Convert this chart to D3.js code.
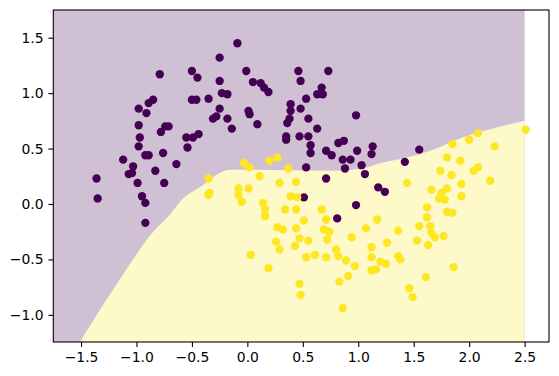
<!DOCTYPE html>
<html>
<head>
<meta charset="utf-8">
<script src="https://cdn.jsdelivr.net/npm/d3@7"></script>
<style>
  body { margin: 0; background: #fff; }
  svg { font-family: "DejaVu Sans", sans-serif; }
</style>
</head>
<body>
<div id="chart"></div>
<script>
// class 0 points (purple)
const class0 = [
  [-1.36,0.23],[-1.35,0.05],[-1.12,0.40],[-1.03,0.34],[-1.07,0.27],[-1.04,0.28],[-0.99,0.19],
  [-0.83,0.30],[-0.75,0.19],[-0.64,0.36],[-0.76,0.46],[-0.92,0.44],[-0.89,0.44],[-0.98,0.52],
  [-0.97,0.60],[-0.98,0.71],[-0.78,0.65],[-0.74,0.70],[-0.71,0.70],[-0.91,0.82],[-0.98,0.86],
  [-0.89,0.91],[-0.85,0.94],[-0.79,1.17],[-0.55,0.60],[-0.54,0.51],[-0.50,1.20],[-0.45,1.14],
  [-0.50,0.94],[-0.46,0.94],[-0.49,0.60],[-0.44,0.63],[-0.95,0.07],[-0.92,0.01],[-0.92,-0.17],
  [-0.09,1.45],[-0.25,1.32],[-0.25,1.11],[-0.35,0.95],[-0.23,1.00],[-0.18,0.99],[-0.25,0.86],
  [-0.31,0.77],[-0.28,0.79],[-0.18,0.77],[-0.14,0.68],[-0.01,1.20],[0.46,1.20],[0.73,1.20],
  [0.05,1.10],[0.12,1.09],[0.15,1.05],[0.19,1.01],[0.48,1.11],[0.67,1.05],[0.63,0.99],
  [0.68,0.99],[0.53,0.95],[0.39,0.90],[0.39,0.84],[0.48,0.86],[0.01,0.84],[0.02,0.81],
  [0.09,0.72],[0.38,0.77],[0.55,0.77],[0.36,0.73],[0.63,0.68],[0.35,0.61],[0.35,0.58],
  [0.47,0.61],[0.55,0.61],[0.57,0.53],[0.57,0.46],[0.71,0.48],[0.76,0.44],[0.82,0.55],
  [0.87,0.57],[0.99,0.48],[0.98,0.80],[1.13,0.52],[1.12,0.45],[0.86,0.40],[0.93,0.40],
  [1.03,0.35],[0.53,0.33],[0.88,0.32],[0.71,0.23],[1.06,0.27],[1.18,0.15],[1.24,0.11],
  [0.51,0.06],[1.55,0.49],[1.42,0.38],[0.98,-0.01],[0.81,-0.13]
];

// class 1 points (yellow)
const class1 = [
  [-0.35,0.23],[-0.35,0.08],[-0.34,0.10],[-0.03,0.37],[0.02,0.33],[0.20,0.39],[0.27,0.42],
  [0.11,0.25],[0.37,0.32],[-0.08,0.14],[0.01,0.14],[-0.08,0.08],[-0.05,0.02],[0.29,0.19],
  [0.44,0.20],[0.39,0.07],[0.45,0.06],[0.14,0.01],[0.16,-0.05],[0.16,-0.11],[0.34,-0.05],
  [0.44,-0.05],[0.51,-0.15],[0.67,-0.05],[0.71,-0.14],[0.27,-0.21],[0.32,-0.23],[0.44,-0.22],
  [0.69,-0.23],[0.74,-0.25],[0.47,-0.31],[0.55,-0.33],[0.72,-0.32],[0.26,-0.34],[0.29,-0.41],
  [0.43,-0.38],[0.80,-0.41],[0.03,-0.46],[0.53,-0.48],[0.61,-0.46],[0.71,-0.48],[0.19,-0.58],
  [0.47,-0.72],[0.48,-0.82],[0.86,-0.94],[1.62,-0.03],[1.62,-0.12],[1.55,-0.20],[1.65,-0.20],
  [1.66,-0.26],[1.69,-0.30],[1.77,-0.29],[1.53,-0.33],[1.63,-0.37],[1.36,-0.24],[1.17,-0.14],
  [1.07,-0.22],[0.94,-0.30],[1.12,-0.39],[1.26,-0.35],[0.82,-0.47],[0.89,-0.51],[0.97,-0.56],
  [1.12,-0.48],[1.20,-0.52],[1.25,-0.54],[1.36,-0.47],[1.38,-0.50],[1.12,-0.60],[1.16,-0.59],
  [0.91,-0.65],[0.83,-0.70],[1.61,-0.66],[1.86,-0.57],[1.46,-0.76],[1.49,-0.84],[2.51,0.67],
  [2.08,0.64],[2.00,0.58],[1.85,0.54],[2.23,0.52],[1.80,0.42],[1.92,0.39],[1.74,0.30],
  [1.84,0.26],[2.04,0.30],[2.08,0.33],[2.19,0.21],[1.93,0.18],[1.44,0.19],[1.66,0.13],
  [1.80,0.14],[1.75,0.10],[1.73,0.05],[1.78,0.04],[1.93,0.07],[1.80,-0.07],[1.85,-0.08]
];

// decision boundary (class 1 lies below it)
const boundary = [
  [-1.51,-1.245],[-1.17,-0.71],[-0.83,-0.23],[-0.72,-0.12],[-0.58,0.05],[-0.43,0.15],
  [-0.31,0.24],[-0.23,0.29],[-0.16,0.31],[0.75,0.30],[1.04,0.32],[1.20,0.37],[1.35,0.40],
  [1.65,0.48],[1.94,0.60],[2.25,0.69],[2.50,0.75]
];

const meshX = [-1.75, 2.5];
const meshY = [-1.245, 1.75];
const xTicks = [-1.5, -1.0, -0.5, 0.0, 0.5, 1.0, 1.5, 2.0, 2.5];
const yTicks = [-1.0, -0.5, 0.0, 0.5, 1.0, 1.5];

const width = 559, height = 376;
const margin = {left: 53.3, right: 10, top: 10, bottom: 34};

const x = d3.scaleLinear().domain([-1.75, 2.72]).range([margin.left, width - margin.right]);
const y = d3.scaleLinear().domain([-1.245, 1.75]).range([height - margin.bottom, margin.top]);

// viridis ends at alpha 0.25 over white
const bgColor = d3.scaleOrdinal().domain([0, 1]).range(["rgb(208,192,212)", "rgb(254,249,200)"]);
const dotColor = d3.scaleOrdinal().domain([0, 1]).range(["#440154", "#fde725"]);

const svg = d3.select("#chart").append("svg")
  .attr("width", width)
  .attr("height", height);

// background: class 0 region
svg.append("rect")
  .attr("x", x(meshX[0]))
  .attr("y", y(meshY[1]))
  .attr("width", x(meshX[1]) - x(meshX[0]))
  .attr("height", y(meshY[0]) - y(meshY[1]))
  .attr("fill", bgColor(0));

// class 1 region
const area = d3.area()
  .curve(d3.curveMonotoneX)
  .x(d => x(d[0]))
  .y0(y(meshY[0]))
  .y1(d => y(d[1]));

svg.append("path")
  .datum(boundary)
  .attr("d", area)
  .attr("fill", bgColor(1));

// scatter
const pts = class0.map(d => ({p: d, c: 0})).concat(class1.map(d => ({p: d, c: 1})));
svg.append("g")
  .selectAll("circle")
  .data(pts)
  .enter()
  .append("circle")
  .attr("cx", d => x(d.p[0]))
  .attr("cy", d => y(d.p[1]))
  .attr("r", 4.17)
  .attr("fill", d => dotColor(d.c));

// axes
const xAxis = d3.axisBottom(x).tickValues(xTicks).tickFormat(d3.format(".1f"))
  .tickSize(4.9).tickPadding(4.9);
const yAxis = d3.axisLeft(y).tickValues(yTicks).tickFormat(d3.format(".1f"))
  .tickSize(4.9).tickPadding(4.9);

const gx = svg.append("g")
  .attr("transform", `translate(0, ${height - margin.bottom})`)
  .call(xAxis);
const gy = svg.append("g")
  .attr("transform", `translate(${margin.left}, 0)`)
  .call(yAxis);

[gx, gy].forEach(g => {
  g.select(".domain").remove();
  g.selectAll(".tick line").attr("stroke", "#000").attr("stroke-width", 1.1);
  g.selectAll(".tick text").attr("fill", "#000")
    .style("font-size", "13.9px").style("font-family", "DejaVu Sans");
});

// frame
svg.append("rect")
  .attr("x", margin.left)
  .attr("y", margin.top)
  .attr("width", width - margin.right - margin.left)
  .attr("height", height - margin.bottom - margin.top)
  .attr("fill", "none")
  .attr("stroke", "#000")
  .attr("stroke-width", 1.1);
</script>
</body>
</html>
